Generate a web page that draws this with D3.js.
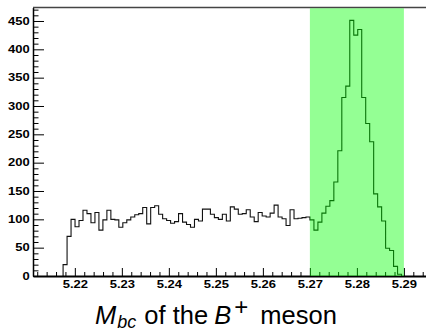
<!DOCTYPE html>
<html>
<head>
<meta charset="utf-8">
<script src="https://cdn.jsdelivr.net/npm/d3@7"></script>
<style>
  html, body { margin: 0; padding: 0; background: #fff; }
  svg { display: block; }
</style>
</head>
<body>
<svg id="chart" width="426" height="331"></svg>
<script>
// ---- data ----
const binStart = 5.2175;      // low edge of first non-empty bin
const binWidth = 0.000847;    // bin width (GeV)
const counts = [20, 70, 100, 87, 98, 116, 110, 94, 112, 81, 99, 116, 100, 99, 86, 94, 99, 104, 108, 110,
  121, 92, 121, 124, 109, 101, 98, 93, 96, 110, 95, 91, 86, 100, 97, 118, 118, 109, 103, 100,
  109, 97, 122, 118, 109, 110, 117, 104, 96, 112, 106, 104, 111, 125, 104, 101, 89, 117, 101, 102,
  103, 104, 99, 81, 95, 111, 123, 133, 166, 221, 315, 335, 451, 425, 435, 315, 269, 237, 145, 122,
  97, 49, 45, 17, 3];
const signalWindow = [5.27, 5.29];
const xTicks = [5.22, 5.23, 5.24, 5.25, 5.26, 5.27, 5.28, 5.29];
const yTicks = [0, 50, 100, 150, 200, 250, 300, 350, 400, 450];
const xLabel = { main: "M", sub: "bc", mid: " of the ", part: "B", sup: "+", tail: " meson" };

// ---- layout ----
const svg = d3.select("#chart");
const mLeft = 33, mRight = 426, mTop = 7.5, mBottom = 276;
const x = d3.scaleLinear().domain([5.2111, 5.2947]).range([mLeft, mRight]);
const y = d3.scaleLinear().domain([0, 473.8]).range([mBottom, mTop]);

// histogram
let pathD = `M${x(binStart)},${y(0)}`;
counts.forEach((c, i) => {
  pathD += `V${y(c)}H${x(binStart + (i + 1) * binWidth)}`;
});
pathD += `V${y(0)}`;
svg.append("path").attr("d", pathD).attr("fill", "none")
  .attr("stroke", "#111").attr("stroke-width", 1.1);

const labelFont = g => g.selectAll("text")
  .style("font-family", "'Liberation Sans', Arial, Helvetica, sans-serif")
  .style("font-weight", "bold").style("font-size", "10px")
  .attr("fill", "#000").attr("transform", "scale(1.3,1)");

// y axis minor
const yMinor = d3.range(10, 474, 10).filter(v => v % 50 !== 0);
svg.append("g").attr("transform", `translate(${mLeft},0)`)
  .call(d3.axisLeft(y).tickValues(yMinor).tickSizeInner(-5.5).tickSizeOuter(0).tickFormat(""))
  .call(g => g.select(".domain").remove())
  .call(g => g.selectAll("line").attr("stroke", "#000"));
// y axis major
svg.append("g").attr("transform", `translate(${mLeft},0)`)
  .call(d3.axisLeft(y).tickValues(yTicks).tickSizeInner(-11).tickSizeOuter(0).tickPadding(2.6))
  .call(g => g.select(".domain").attr("stroke", "#000").attr("stroke-width", 1.5))
  .call(g => g.selectAll("line").attr("stroke", "#000"))
  .call(labelFont);

// x axis minor
const xMinor = d3.range(5212, 5295, 2).filter(v => v % 10 !== 0).map(v => v / 1000);
svg.append("g").attr("transform", `translate(0,${mBottom})`)
  .call(d3.axisBottom(x).tickValues(xMinor).tickSizeInner(-4).tickSizeOuter(0).tickFormat(""))
  .call(g => g.select(".domain").remove())
  .call(g => g.selectAll("line").attr("stroke", "#000"));
// x axis major
svg.append("g").attr("transform", `translate(0,${mBottom})`)
  .call(d3.axisBottom(x).tickValues(xTicks).tickSizeInner(-8).tickSizeOuter(0).tickPadding(4.7)
    .tickFormat(d3.format(".2f")))
  .call(g => g.select(".domain").attr("stroke", "#000").attr("stroke-width", 2))
  .call(g => g.selectAll("line").attr("stroke", "#000"))
  .call(labelFont);

// top frame line
svg.append("line").attr("x1", mLeft).attr("x2", mRight).attr("y1", mTop).attr("y2", mTop)
  .attr("stroke", "#444").attr("stroke-width", 1.5);

// signal window band (semi-transparent, drawn on top)
svg.append("rect")
  .attr("x", x(signalWindow[0])).attr("width", x(signalWindow[1]) - x(signalWindow[0]))
  .attr("y", y(y.domain()[1]) + 0.8).attr("height", y(0) - y(y.domain()[1]) - 0.8)
  .attr("fill", "#00ff00").attr("fill-opacity", 0.42);

// x-axis title
const t = svg.append("text").attr("x", 95).attr("y", 324)
  .style("font-family", "'Liberation Sans', Arial, Helvetica, sans-serif")
  .style("font-size", "25.5px").attr("fill", "#000");
t.append("tspan").style("font-style", "italic").text(xLabel.main);
t.append("tspan").style("font-style", "italic").style("font-size", "18px")
  .attr("dx", 1).attr("dy", 4).text(xLabel.sub);
t.append("tspan").attr("dy", -4).attr("dx", 1).text(xLabel.mid);
t.append("tspan").style("font-style", "italic").attr("dx", -1).text(xLabel.part);
t.append("tspan").style("font-size", "24px").attr("dx", 3).attr("dy", -9).text(xLabel.sup);
t.append("tspan").attr("dx", 5).attr("dy", 9).text(xLabel.tail);
</script>
</body>
</html>
